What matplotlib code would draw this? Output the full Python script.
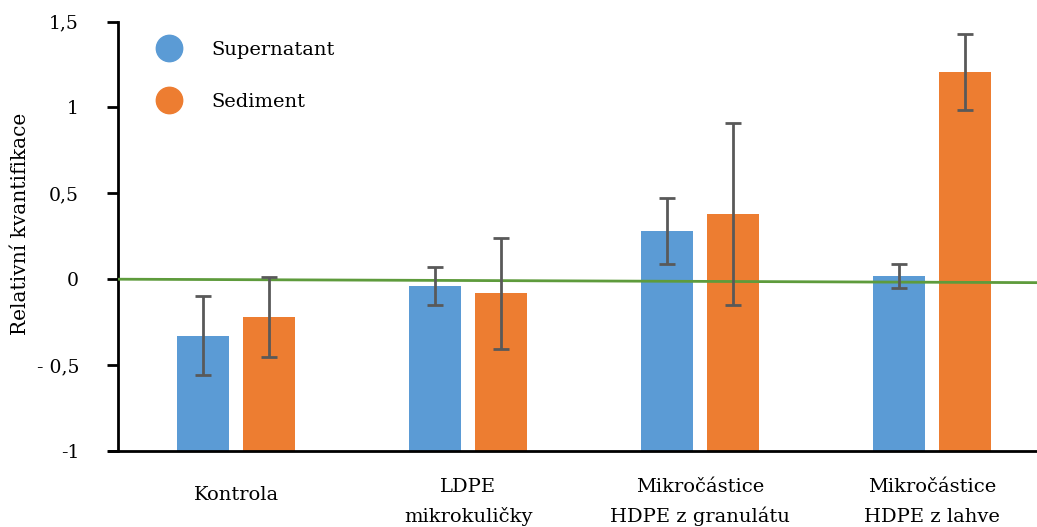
import matplotlib
matplotlib.use("Agg")
import matplotlib.pyplot as plt
from matplotlib.lines import Line2D
import numpy as np

# Data
categories = ["Kontrola", "LDPE\nmikrokuličky", "Mikročástice\nHDPE z granulátu", "Mikročástice\nHDPE z lahve"]
series_names = ["Supernatant", "Sediment"]
supernatant = [-0.33, -0.038, 0.28, 0.02]
supernatant_err = [0.23, 0.11, 0.19, 0.07]
sediment = [-0.22, -0.083, 0.38, 1.205]
sediment_err = [0.23, 0.325, 0.53, 0.22]
yticks = [-1, -0.5, 0, 0.5, 1, 1.5]
ytick_labels = ["-1", "- 0,5", "0", "0,5", "1", "1,5"]
reference_line = [0.0, -0.02]   # baseline level at left and right ends
bar_base = -1.0                 # bars grow up from the bottom of the value axis

BLUE = "#5B9BD5"
ORANGE = "#ED7D31"
GREEN = "#5E9B3C"
ERR = "#595959"
SERIF = "DejaVu Serif"

fig = plt.figure(figsize=(10.37, 5.27), dpi=100)
ax = fig.add_axes([0.1138, 0.1442, 0.8862, 0.8150])

x = np.arange(len(categories))
width = 0.224
offset = 0.142
err_kw = dict(ecolor=ERR, elinewidth=2.0, capsize=6, capthick=2.0, zorder=4)

ax.bar(x - offset, np.array(supernatant) - bar_base, width, bottom=bar_base, color=BLUE, zorder=2)
ax.bar(x + offset, np.array(sediment) - bar_base, width, bottom=bar_base, color=ORANGE, zorder=2)
ax.errorbar(x - offset, supernatant, yerr=supernatant_err, fmt="none", **err_kw)
ax.errorbar(x + offset, sediment, yerr=sediment_err, fmt="none", **err_kw)

xlim = (-0.509, 3.452)
ax.set_xlim(*xlim)
ax.set_ylim(-1, 1.5)
ax.plot(xlim, reference_line, color=GREEN, lw=2.0, zorder=3, solid_capstyle="butt")

# Axes styling
for side in ("top", "right"):
    ax.spines[side].set_visible(False)
ax.spines["left"].set_linewidth(2.0)
ax.spines["bottom"].set_linewidth(2.0)
ax.spines["bottom"].set_bounds(xlim[0] - 0.04, xlim[1])
ax.spines["bottom"].set_zorder(5)

ax.set_yticks(yticks)
ax.set_yticklabels(ytick_labels, fontfamily=SERIF, fontsize=13.5)
ax.tick_params(axis="y", length=8, width=2.0, pad=20)
ax.set_xticks([])

ax.set_ylabel("Relativní kvantifikace", fontfamily=SERIF, fontsize=14.5)
ax.yaxis.set_label_coords(-0.096, 0.528)

# Category labels under the axis
first_line_y = -0.084
line_step = 0.069
for xi, label in zip(x, categories):
    lines = label.split("\n")
    if len(lines) == 1:
        ax.text(xi, -0.102, label, transform=ax.get_xaxis_transform(), ha="center", va="center",
                fontfamily=SERIF, fontsize=14)
    else:
        for k, line in enumerate(lines):
            ax.text(xi, first_line_y - k * line_step, line, transform=ax.get_xaxis_transform(),
                    ha="center", va="center", fontfamily=SERIF, fontsize=14)

handles = [Line2D([], [], marker="o", linestyle="none", markersize=19, color=c)
           for c in (BLUE, ORANGE)]
fig.legend(handles, series_names, loc="upper left", bbox_to_anchor=(0.1499, 0.923),
           frameon=False, prop=dict(family=SERIF, size=14), borderpad=0, borderaxespad=0,
           handlelength=1.4, handletextpad=1.5, labelspacing=1.76)

fig.savefig("out.png", dpi=100)
